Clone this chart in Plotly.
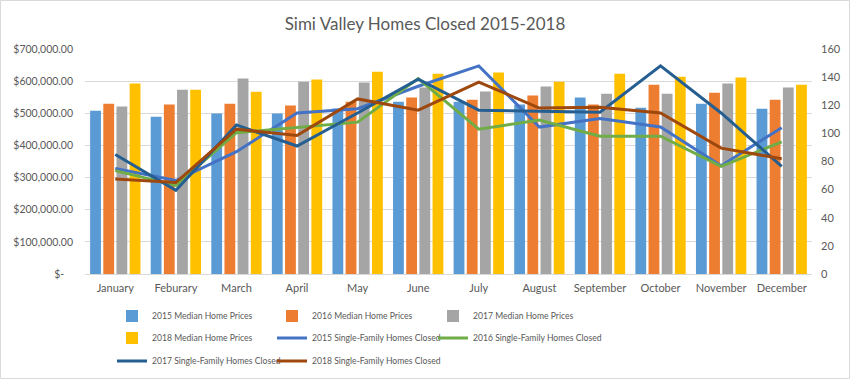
import plotly.graph_objects as go

months = ["January", "Feburary", "March", "April", "May", "June", "July",
          "August", "September", "October", "November", "December"]

price_2015 = [508000, 489000, 499000, 499000, 515000, 536000, 536000, 527000, 549000, 517000, 530000, 514000]
price_2016 = [530000, 527000, 530000, 524000, 536000, 549000, 542000, 555000, 527000, 589000, 564000, 542000]
price_2017 = [521000, 573000, 608000, 598000, 596000, 580000, 568000, 583000, 561000, 561000, 593000, 580000]
price_2018 = [593000, 573000, 567000, 605000, 629000, 623000, 627000, 598000, 623000, 614000, 611000, 589000]

closed_2015 = [75, 66.5, 87, 114.5, 117.5, 133.5, 148, 104.5, 110.5, 104.5, 77, 104]
closed_2016 = [73.5, 63, 100.5, 104.5, 108, 139, 103, 109.5, 98, 98, 76.5, 94]
closed_2017 = [85, 59.5, 106, 91, 114.5, 138.5, 116.5, 116, 115, 148, 114.5, 76.5]
closed_2018 = [67.5, 65, 103, 98.5, 124.5, 116.5, 136.5, 118, 118.5, 114.5, 89.5, 82]

left_ticks = [0, 100000, 200000, 300000, 400000, 500000, 600000, 700000]
left_tick_text = ["$-\u2007\u2009\u2009", "$100,000.00", "$200,000.00", "$300,000.00", "$400,000.00",
                  "$500,000.00", "$600,000.00", "$700,000.00"]
right_ticks = [0, 20, 40, 60, 80, 100, 120, 140, 160]

bar_series = [
    ("2015 Median Home Prices", price_2015, "#5B9BD5"),
    ("2016 Median Home Prices", price_2016, "#ED7D31"),
    ("2017 Median Home Prices", price_2017, "#A5A5A5"),
    ("2018 Median Home Prices", price_2018, "#FFC000"),
]
line_series = [
    ("2015 Single-Family Homes Closed", closed_2015, "#4472C4"),
    ("2016 Single-Family Homes Closed", closed_2016, "#70AD47"),
    ("2017 Single-Family Homes Closed", closed_2017, "#255E91"),
    ("2018 Single-Family Homes Closed", closed_2018, "#9E480E"),
]

FONT = "Lato, 'Open Sans', sans-serif"
TXT = "#595959"

W, H = 850, 379
ml, mr, mt, mb = 85, 38, 49, 105
pw, ph = W - ml - mr, H - mt - mb


def px_x(x):
    return (x - ml) / pw


def px_y(y):
    return (H - mb - y) / ph


# legend slot (text-start x, row-centre y) for each entry, in reading order
text_starts = [152, 312, 473]
row_centres = [316, 338, 361]
legend_ids = ["legend"] + ["legend%d" % i for i in range(2, 9)]

fig = go.Figure()
idx = 0
for name, vals, col in bar_series:
    fig.add_trace(go.Bar(x=months, y=vals, name=name, marker_color=col,
                         marker_line_width=0, legend=legend_ids[idx], yaxis="y"))
    idx += 1
for name, vals, col in line_series:
    fig.add_trace(go.Scatter(x=months, y=vals, name=name, mode="lines",
                             line=dict(color=col, width=3), legend=legend_ids[idx],
                             yaxis="y2"))
    idx += 1

legends = {}
for i, lid in enumerate(legend_ids):
    r, c = divmod(i, 3)
    legends[lid] = dict(x=px_x(text_starts[c] - 40), y=px_y(row_centres[r]),
                        xanchor="left", yanchor="middle", orientation="v",
                        font=dict(family=FONT, size=8.6, color=TXT),
                        bgcolor="rgba(0,0,0,0)", itemwidth=30, visible=True)

fig.update_layout(
    width=W, height=H,
    margin=dict(l=ml, r=mr, t=mt, b=mb, autoexpand=False),
    paper_bgcolor="white", plot_bgcolor="white",
    showlegend=True,
    title=dict(text="Simi Valley Homes Closed 2015-2018", x=0.5, xanchor="center",
               y=1 - 24 / H, yanchor="middle",
               font=dict(family=FONT, size=17, color=TXT)),
    font=dict(family=FONT, size=11, color=TXT),
    barmode="group", bargap=0.13, bargroupgap=0.18,
    xaxis=dict(showgrid=False, showline=True, linecolor="#D9D9D9", linewidth=1,
               ticks="", ticklabelstandoff=4, automargin=False,
               tickfont=dict(size=11, color=TXT)),
    yaxis=dict(range=[0, 700000], tickvals=left_ticks, ticktext=left_tick_text,
               showgrid=True, gridcolor="#D9D9D9", gridwidth=1, zeroline=False,
               showline=False, ticks="", ticklabelstandoff=11, automargin=False,
               tickfont=dict(size=10.5, color=TXT)),
    yaxis2=dict(range=[0, 160], tickvals=right_ticks, overlaying="y", side="right",
                showgrid=False, zeroline=False, showline=False, ticks="",
                ticklabelstandoff=8, automargin=False,
                tickfont=dict(size=11, color=TXT)),
    shapes=[dict(type="rect", xref="paper", yref="paper",
                 x0=px_x(0.5), x1=px_x(849.5), y0=px_y(378.5), y1=px_y(0.5),
                 line=dict(color="#D9D9D9", width=1), layer="below")],
    **legends,
)

fig.write_html("out.html", config={"displayModeBar": False},
               post_script="document.body.style.margin='0';document.body.style.overflow='hidden';")
